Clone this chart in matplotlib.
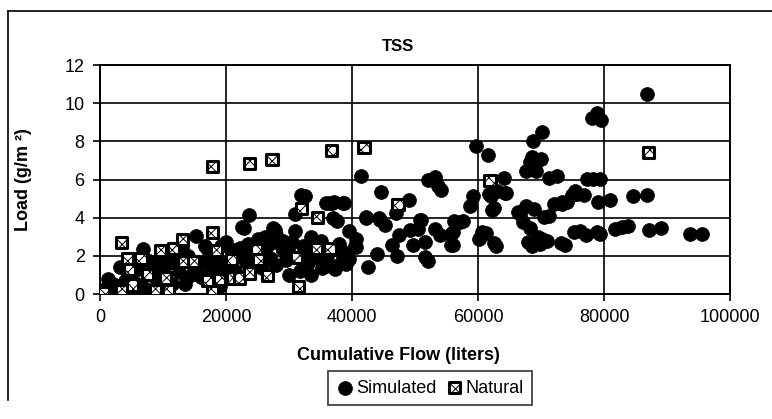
import matplotlib
matplotlib.use("Agg")
import matplotlib.pyplot as plt
from matplotlib.lines import Line2D
import numpy as np

plt.rcParams['font.family'] = ['Liberation Sans', 'DejaVu Sans']
plt.rcParams['hatch.linewidth'] = 0.7

# simulated loads (flow in liters, load in g/m2)
sim_flow = [500, 1000, 1300, 1600, 2300, 3100, 3100, 4500, 5500, 6900, 8600, 8900,
            10900, 12000, 12500, 13500, 14000, 15300, 15600, 16600, 17100, 19200, 21300,
            7500, 10000, 11500, 16000, 18500, 19500, 20300, 21000, 22300, 23100, 22600,
            23600, 22900, 24200, 25700, 26200, 26700, 27500, 27800, 28000, 28000, 29100,
            29100, 29900, 31700, 32200, 32800, 31900, 30900, 35300, 35800, 37100, 36500,
            38700, 32500, 37000, 35900, 34900, 37500, 40700, 40400, 39100, 40700, 39600,
            39100, 37300, 36800, 38600, 37000, 37600,
            2000, 4000, 6000, 7000, 9500, 11000, 13000, 14500, 16500, 17500, 18000, 19000,
            20000, 21500, 22000, 23500, 24500, 25000, 26000, 27000, 28500, 29500, 30500,
            31000, 33000, 33500, 34000, 35000, 36000, 38000, 38500, 39500, 30000, 33500,
            41500, 44600, 49000, 52100, 53100, 53700, 54200, 42200, 44300, 45300, 50800,
            47400, 49200, 50500, 53100, 53900, 55700, 56200, 46400, 47200, 49700, 51600,
            44000, 52100, 51600, 55700, 42500, 47000, 51000, 44400, 42300,
            57600, 59200, 58700, 59700, 61600, 60500, 61300, 62900, 62100, 64500, 62600,
            64200, 56000, 56100, 57200, 60600, 60100, 62600, 61700, 63000, 64300, 62200,
            66300, 67600, 68900, 70500, 72000, 73300, 74900, 75400, 67100, 68200, 67900,
            69500, 70200, 73100, 75200, 66600, 68200, 70000, 67600, 69200, 71300, 72600,
            68800, 70100, 68600, 68600, 69900, 71000, 71200, 73800, 76200, 77200, 78900,
            79400, 81700, 82800, 83800, 87200, 89000, 93700, 95600, 75700, 76800, 79100,
            80900, 84600, 86800, 77300, 78300, 79400, 78100, 78900, 79600, 86800, 73300,
            74100]
sim_load = [0.1, 0.3, 0.8, 0.16, 0.26, 1.4, 0.4, 1.0, 0.6, 2.37, 1.5, 0.8,
            2.2, 1.84, 1.15, 0.53, 2.0, 3.05, 1.5, 2.53, 2.3, 2.5, 2.3,
            1.8, 1.2, 0.5, 0.9, 1.6, 1.2, 1.7, 2.23, 2.4, 1.7, 3.53,
            4.14, 3.44, 2.23, 1.36, 3.0, 2.57, 3.44, 3.36, 3.1, 1.53, 2.23,
            2.8, 2.31, 1.19, 2.49, 2.05, 5.18, 4.2, 1.36, 4.75, 4.83, 4.75,
            4.75, 5.13, 2.35, 1.48, 1.83, 1.48, 2.87, 2.5, 2.17, 2.46, 1.84,
            1.58, 1.31, 4.76, 4.76, 3.96, 3.82,
            0.5, 0.7, 1.3, 0.3, 1.9, 1.6, 2.4, 1.0, 1.7, 1.1, 2.0, 0.4,
            2.7, 1.2, 2.0, 2.6, 1.8, 2.9, 2.1, 1.9, 2.6, 1.8, 2.7,
            3.3, 1.6, 3.0, 2.2, 2.8, 2.0, 2.6, 1.9, 3.3, 1.0, 1.0,
            6.2, 5.35, 4.94, 6.0, 6.12, 5.65, 5.45, 4.05, 3.96, 3.6, 3.88,
            3.08, 3.35, 3.43, 3.43, 3.08, 3.17, 3.8, 2.55, 2.0, 2.55, 2.73,
            2.1, 1.75, 1.93, 2.55, 1.4, 4.26, 3.9, 3.9, 4.0,
            3.83, 5.13, 4.6, 7.74, 7.3, 3.04, 3.2, 2.52, 5.13, 5.3, 4.52,
            6.1, 3.26, 2.58, 3.78, 3.26, 2.87, 2.67, 5.24, 5.4, 5.28, 4.38,
            4.3, 4.6, 4.45, 4.02, 4.72, 4.72, 5.2, 5.4, 3.78, 3.44, 2.75,
            3.0, 2.87, 2.67, 3.26, 4.17, 6.94, 7.1, 6.43, 6.43, 6.1, 6.2,
            8.0, 8.5, 7.2, 2.53, 2.6, 2.8, 4.1, 2.55, 3.3, 3.1, 3.25,
            3.16, 3.4, 3.5, 3.54, 3.33, 3.46, 3.12, 3.12, 5.26, 5.18, 4.82,
            4.91, 5.12, 5.2, 6.05, 6.05, 6.05, 9.2, 9.47, 9.12, 10.47, 4.8,
            4.84]

# natural loads
nat_flow = [3400, 4400, 6500, 4700, 7500, 5100, 500, 3400, 8800, 10900, 9600, 11700,
            13100, 13200, 14800, 10400, 17900, 18500, 17100, 17900, 19000, 20900, 21000,
            22100, 23800, 24800, 25200, 26600, 31200, 31500, 32000, 34300, 34500, 36500,
            17900, 23700, 27300, 36700, 41900, 47300, 61900, 87100]
nat_load = [2.68, 1.84, 1.84, 1.3, 1.0, 0.47, 0.1, 0.2, 0.2, 0.2, 2.3, 2.4,
            2.84, 1.68, 1.68, 0.84, 3.2, 2.3, 0.7, 0.14, 0.75, 1.83, 0.84,
            0.84, 1.1, 2.35, 1.83, 0.97, 1.9, 0.4, 4.5, 2.4, 4.0, 2.4,
            6.66, 6.85, 7.06, 7.5, 7.7, 4.7, 5.95, 7.4]

x_ticks = [0, 20000, 40000, 60000, 80000, 100000]
y_ticks = [0, 2, 4, 6, 8, 10, 12]

fig = plt.figure(figsize=(7.72, 4.19), dpi=100)
ax = fig.add_axes([100 / 772, 1 - 294 / 419, 630 / 772, 229 / 419])

sim = ax.scatter(sim_flow, sim_load, s=100, marker='o', c='black', edgecolors='black',
                 linewidths=0.5, zorder=3, label='Simulated')
nat = ax.scatter(nat_flow, nat_load, s=64, marker='s', facecolor='white', edgecolors='black',
                 linewidths=2.2, hatch='xxx', zorder=4, label='Natural')

ax.set_xlim(0, 100000)
ax.set_ylim(0, 12)
ax.set_xticks(x_ticks)
ax.set_yticks(y_ticks)
ax.set_xticklabels([str(t) for t in x_ticks])
ax.grid(True, color='black', linewidth=1.2)
ax.set_axisbelow(True)
for sp in ax.spines.values():
    sp.set_linewidth(1.4)
ax.tick_params(direction='out', length=5, width=1.2, labelsize=13, pad=6)

fig.text(398 / 772, 1 - 46 / 419, 'TSS', ha='center', va='center', fontsize=12, fontweight='bold')
fig.text(398 / 772, 1 - 355 / 419, 'Cumulative Flow (liters)', ha='center', va='center',
         fontsize=13, fontweight='bold')
fig.text(24 / 772, 1 - 180 / 419, 'Load (g/m ²)', ha='center', va='center', rotation=90,
         fontsize=13, fontweight='bold')

leg = fig.legend(handles=[sim, nat], loc='center', bbox_to_anchor=(430 / 772, 1 - 388 / 419),
                 ncol=2, fontsize=13, frameon=True, fancybox=False, edgecolor='black',
                 handletextpad=0.1, columnspacing=0.5, handlelength=1.0, borderpad=0.45,
                 borderaxespad=0.0)
leg.get_frame().set_linewidth(1.2)

# outer chart frame (top and left edges only visible)
fig.add_artist(Line2D([8 / 772, 1.0], [1 - 11 / 419, 1 - 11 / 419], color='black', linewidth=1.2))
fig.add_artist(Line2D([8 / 772, 8 / 772], [1 - 11 / 419, 1 - 400 / 419], color='black', linewidth=1.2))

fig.savefig('out.png', dpi=100)
